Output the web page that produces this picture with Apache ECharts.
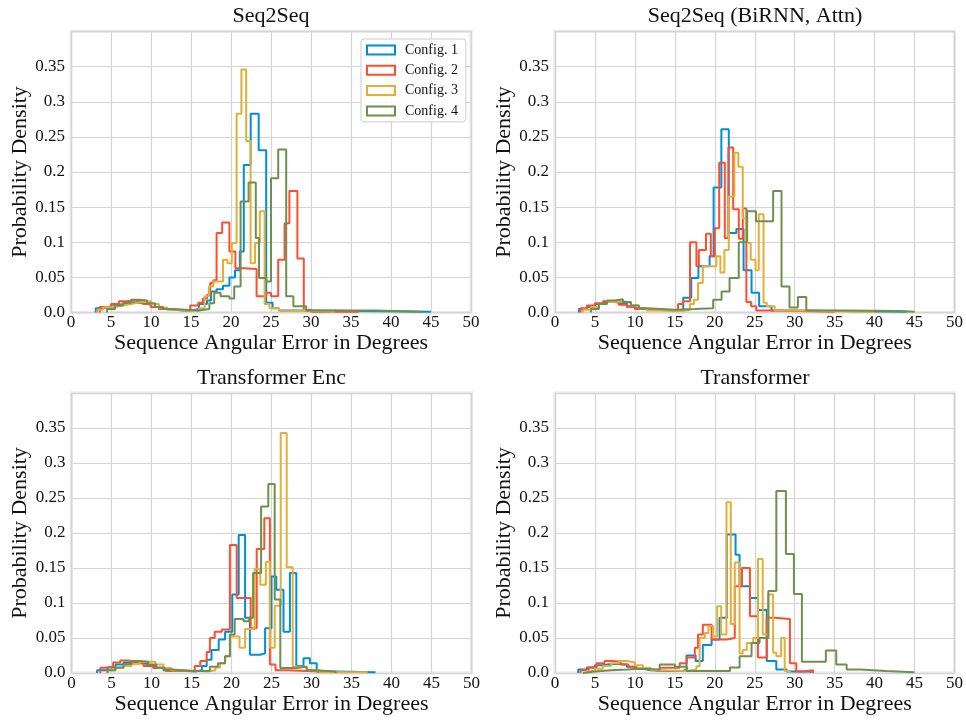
<!DOCTYPE html>
<html><head><meta charset="utf-8">
<script src="https://cdn.jsdelivr.net/npm/echarts@6/dist/echarts.min.js"></script>
<style>html,body{margin:0;padding:0;background:#fff}#c{width:966px;height:720px}</style>
</head><body><div id="c"></div>
<script>
// Panel titles and labels
const panelTitles = ['Seq2Seq', 'Seq2Seq (BiRNN, Attn)', 'Transformer Enc', 'Transformer'];
const seriesNames = ['Config. 1', 'Config. 2', 'Config. 3', 'Config. 4'];
const xTickValues = [0, 5, 10, 15, 20, 25, 30, 35, 40, 45, 50];
const yTickLabels = ['0.0', '0.05', '0.1', '0.15', '0.2', '0.25', '0.3', '0.35'];
const xName = 'Sequence Angular Error in Degrees';
const yName = 'Probability Density';

// Histogram steps: [left bin edge, density]; last entry is the right edge of the last bin.
// Panel 1: Seq2Seq
const p1c1 = [[3.1,0.006],[4.0,0.008],[5.0,0.011],[6.0,0.013],[7.0,0.014],[8.0,0.013],[9.0,0.011],[10.0,0.008],[11.0,0.005],[12.0,0.003],[14.0,0.003],[15.0,0.005],[16.0,0.012],[17.0,0.017],[17.5,0.03],[18.2,0.033],[19.0,0.038],[19.8,0.05],[20.5,0.06],[21.1,0.087],[21.6,0.21],[22.46,0.283],[23.46,0.231],[24.4,0.014],[25.2,0.006],[26,0.003],[30,0.001],[45,0]];
const p1c2 = [[3.6,0.008],[4.3,0.006],[5.0,0.012],[6.0,0.016],[7.0,0.017],[8.0,0.015],[9.0,0.012],[10.0,0.008],[11.0,0.005],[12.0,0.003],[14.9,0.01],[15.9,0.014],[16.5,0.02],[17.0,0.025],[17.4,0.042],[17.8,0.046],[18.2,0.113],[18.9,0.128],[19.8,0.087],[20.55,0.063],[21.6,0.062],[23.2,0.023],[24.4,0.028],[25.0,0.023],[25.9,0.075],[26.7,0.127],[27.3,0.173],[28.3,0.077],[29.1,0.004],[30,0.001],[36,0]];
const p1c3 = [[3.3,0.004],[4,0.007],[5,0.009],[6,0.011],[7,0.013],[8,0.015],[9,0.016],[10,0.012],[11,0.007],[12,0.004],[13,0.002],[16,0.006],[16.7,0.023],[17.25,0.037],[17.8,0.044],[19.0,0.075],[19.55,0.07],[20.1,0.099],[20.7,0.283],[21.3,0.346],[21.9,0.244],[22.45,0.07],[23.0,0.099],[23.6,0.144],[24.2,0.012],[24.8,0.006],[26,0.003],[29,0.001],[33,0]];
const p1c4 = [[4.5,0.005],[5.5,0.01],[6.5,0.014],[7.5,0.018],[8.5,0.017],[9.5,0.013],[10.5,0.008],[11.5,0.005],[12.5,0.003],[16,0.005],[17.3,0.013],[17.9,0.028],[18.7,0.023],[19.8,0.02],[20.4,0.037],[21.2,0.158],[22.2,0.185],[23.1,0.106],[23.5,0.049],[24.4,0.044],[25.0,0.191],[25.9,0.232],[26.9,0.023],[27.8,0.009],[29.4,0.003],[38,0.001],[44,0]];
// Panel 2: Seq2Seq (BiRNN, Attn)
const p2c1 = [[3.0,0.005],[4,0.008],[5,0.012],[6,0.015],[7,0.016],[8,0.013],[9,0.009],[10,0.006],[11,0.004],[12,0.003],[15,0.004],[16.05,0.021],[17.05,0.049],[17.95,0.066],[19.35,0.08],[19.85,0.178],[20.82,0.261],[21.75,0.113],[22.7,0.119],[23.6,0.06],[24.6,0.028],[25.55,0.009],[27.1,0.003],[30,0.001],[44,0]];
const p2c2 = [[3.2,0.006],[4,0.01],[5,0.013],[6,0.016],[7,0.014],[8,0.011],[9,0.008],[10,0.005],[11,0.003],[15.4,0.012],[16.0,0.016],[16.9,0.10],[17.7,0.066],[18.0,0.089],[18.9,0.112],[19.5,0.08],[20.0,0.12],[20.55,0.213],[21.25,0.106],[21.7,0.235],[22.3,0.147],[23.0,0.105],[23.5,0.148],[23.95,0.015],[24.55,0.009],[25.2,0.003],[28,0.001],[35,0]];
const p2c3 = [[3.5,0.004],[4.5,0.008],[5.5,0.012],[6.5,0.015],[7.5,0.016],[8.5,0.014],[9.5,0.01],[10.5,0.006],[11.5,0.003],[13,0.002],[16,0.004],[16.9,0.012],[17.4,0.018],[17.9,0.042],[18.5,0.066],[20.2,0.08],[20.7,0.057],[21.2,0.089],[21.75,0.165],[22.45,0.2275],[22.95,0.2075],[23.5,0.134],[23.9,0.099],[24.5,0.075],[25.1,0.06],[25.5,0.14],[26.1,0.014],[26.5,0.009],[27.5,0.003],[30,0.001],[40,0]];
const p2c4 = [[4.5,0.005],[5.5,0.012],[6.5,0.017],[7.5,0.019],[8.5,0.015],[9.5,0.01],[10.5,0.006],[11.5,0.004],[15,0.005],[17.5,0.006],[19.8,0.018],[20.85,0.03],[21.85,0.049],[23.0,0.1],[24.05,0.144],[25.15,0.13],[27.3,0.173],[28.35,0.037],[29.35,0.007],[30.4,0.022],[31.45,0.003],[36,0.002],[43,0.001],[45,0]];
// Panel 3: Transformer Enc
const p3c1 = [[3.2,0.004],[4.5,0.008],[5.5,0.012],[6.5,0.015],[7.5,0.015],[8.5,0.013],[9.5,0.01],[10.5,0.007],[11.5,0.004],[13,0.002],[15.5,0.004],[16.3,0.01],[16.9,0.019],[17.5,0.033],[18.4,0.048],[19.2,0.059],[20.1,0.112],[20.9,0.197],[21.7,0.079],[22.3,0.026],[23.6,0.028],[24.2,0.064],[25.0,0.138],[25.6,0.119],[26.5,0.059],[27.3,0.143],[28.1,0.01],[29.0,0.021],[29.8,0.014],[30.65,0.002],[33,0.001],[38,0]];
const p3c2 = [[3.6,0.0075],[4.2,0.009],[5.2,0.015],[6.1,0.018],[6.9,0.017],[7.7,0.014],[9.0,0.01],[10.2,0.007],[11.8,0.003],[15.4,0.01],[16.1,0.017],[16.9,0.03],[17.3,0.05],[17.9,0.059],[18.8,0.062],[19.8,0.183],[20.65,0.107],[22.4,0.064],[23.15,0.177],[24.1,0.221],[24.8,0.012],[25.5,0.004],[27,0.002],[31,0]];
const p3c3 = [[4.5,0.004],[5.5,0.007],[6.5,0.01],[7.5,0.013],[8.5,0.016],[9.5,0.016],[10.5,0.012],[11.5,0.007],[12.5,0.004],[14,0.002],[17,0.004],[18.0,0.008],[18.56,0.014],[19.2,0.024],[19.8,0.052],[21.0,0.036],[21.7,0.063],[22.9,0.149],[23.6,0.126],[24.3,0.159],[24.8,0.036],[25.4,0.096],[26.15,0.343],[26.9,0.151],[27.65,0.009],[29.4,0.004],[31,0.001],[37,0]];
const p3c4 = [[4.5,0.004],[5.5,0.008],[6.5,0.013],[7.5,0.017],[8.6,0.016],[9.6,0.012],[10.6,0.008],[11.6,0.005],[12.6,0.003],[15,0.003],[17.3,0.009],[18.3,0.014],[19.2,0.024],[19.8,0.055],[20.4,0.077],[21.5,0.074],[22.2,0.079],[22.7,0.143],[23.7,0.238],[24.6,0.27],[25.4,0.105],[26.1,0.007],[28.1,0.009],[29.4,0.004],[30.5,0.002],[33,0]];
// Panel 4: Transformer
const p4c1 = [[2.9,0.005],[4,0.008],[5,0.011],[6,0.013],[7,0.013],[8,0.012],[9,0.009],[10,0.006],[11,0.004],[12,0.003],[14,0.003],[16,0.005],[16.46,0.025],[17.6,0.017],[18.5,0.04],[19.6,0.048],[20.6,0.079],[21.5,0.198],[22.6,0.169],[23.1,0.124],[24.4,0.107],[25.4,0.09],[26.5,0.017],[27.7,0.005],[29,0.002],[32,0]];
const p4c2 = [[3.2,0.004],[4.2,0.008],[5.2,0.014],[6.2,0.017],[7.2,0.016],[8.2,0.012],[9.2,0.009],[10.2,0.006],[11.2,0.004],[12.5,0.003],[13.1,0.0075],[15.6,0.014],[16.5,0.022],[17.5,0.036],[17.9,0.055],[18.5,0.069],[19.6,0.048],[21.5,0.05],[22.5,0.124],[23.4,0.15],[24.4,0.081],[25.4,0.022],[26.5,0.079],[27.5,0.077],[29.4,0.014],[30.2,0.002],[31.2,0.004],[32.3,0]];
const p4c3 = [[4,0.003],[5,0.006],[6,0.01],[7,0.014],[8,0.017],[9,0.015],[10,0.011],[11,0.007],[12,0.004],[13,0.003],[16.5,0.005],[17.7,0.0095],[18.1,0.05],[18.75,0.057],[19.2,0.067],[19.8,0.052],[20.3,0.0955],[20.8,0.055],[21.46,0.244],[22.0,0.07],[22.5,0.158],[23.1,0.028],[23.5,0.033],[24.0,0.043],[24.8,0.05],[25.4,0.163],[26.0,0.055],[26.7,0.112],[27.3,0.029],[27.7,0.024],[28.3,0.05],[28.75,0.003],[29.4,0]];
const p4c4 = [[3.5,0.002],[5,0.004],[7,0.005],[9,0.006],[10.6,0.005],[13.1,0.012],[15,0.009],[16.5,0.003],[21.9,0.008],[23.1,0.024],[24.6,0.043],[25.6,0.05],[26.7,0.117],[27.7,0.26],[28.9,0.17],[29.9,0.113],[30.9,0.016],[33.9,0.032],[35.2,0.012],[36.5,0.005],[38.3,0.003],[41.4,0.001],[45,0]];

const panelData = [[p1c1,p1c2,p1c3,p1c4],[p2c1,p2c2,p2c3,p2c4],[p3c1,p3c2,p3c3,p3c4],[p4c1,p4c2,p4c3,p4c4]];
const colors = ['#008fd5', '#fc4f30', '#e5ae38', '#6d904f'];
const FONT = 'Liberation Serif';

const grids = [
  {left: 71, top: 31.5, width: 400, height: 281},
  {left: 555, top: 31.5, width: 400, height: 281},
  {left: 71.5, top: 393, width: 400, height: 280},
  {left: 555, top: 393, width: 400, height: 280}
];

function toLine(steps) {
  const d = [[steps[0][0], 0]];
  steps.forEach(s => d.push([s[0], s[1]]));
  return d;
}

const option = {
  animation: false,
  backgroundColor: '#ffffff',
  textStyle: {fontFamily: FONT},
  color: colors,
  grid: grids.map(g => Object.assign({show: true, borderColor: '#e8e8e8', borderWidth: 3, backgroundColor: '#ffffff'}, g)),
  xAxis: grids.map((g, i) => ({
    type: 'value', gridIndex: i, min: 0, max: 50, interval: 5,
    name: xName, nameLocation: 'middle', nameGap: 20,
    nameTextStyle: {fontFamily: FONT, fontSize: 22, color: '#111'},
    axisLine: {show: false}, axisTick: {show: false},
    axisLabel: {fontFamily: FONT, fontSize: 17, color: '#111', margin: 2,
      formatter: v => (xTickValues.indexOf(Math.round(v)) >= 0 ? String(Math.round(v)) : '')},
    splitLine: {show: true, lineStyle: {color: '#d4d4d4', width: 1.2}}
  })),
  yAxis: grids.map((g, i) => ({
    type: 'value', gridIndex: i, min: 0, max: 0.4, interval: 0.05,
    name: yName, nameLocation: 'middle', nameGap: 40,
    nameTextStyle: {fontFamily: FONT, fontSize: 22, color: '#111'},
    axisLine: {show: false}, axisTick: {show: false},
    axisLabel: {fontFamily: FONT, fontSize: 17, color: '#111', margin: 6,
      formatter: v => { const k = Math.round(v / 0.05); return k < yTickLabels.length ? yTickLabels[k] : ''; }},
    splitLine: {show: true, lineStyle: {color: '#d4d4d4', width: 1.2}}
  })),
  legend: {
    orient: 'vertical', left: 361, top: 39,
    itemWidth: 28, itemHeight: 9, itemGap: 6.3,
    padding: [4, 8, 4, 5],
    backgroundColor: 'rgba(255,255,255,0.85)', borderColor: '#cccccc', borderWidth: 1, borderRadius: 3,
    textStyle: {fontFamily: FONT, fontSize: 14, color: '#111', padding: [0, 0, 0, 5]},
    data: seriesNames.map((n, i) => ({name: n, icon: 'rect',
      itemStyle: {color: 'rgba(0,0,0,0)', borderColor: colors[i], borderWidth: 2}}))
  },
  graphic: panelTitles.map((t, i) => ({
    type: 'text',
    x: grids[i].left + grids[i].width / 2, y: grids[i].top - 15,
    style: {text: t, font: '22px "' + FONT + '"', fill: '#111', textAlign: 'center', textVerticalAlign: 'middle'}
  })),
  series: []
};

panelData.forEach((group, p) => {
  group.forEach((steps, k) => {
    option.series.push({
      type: 'line', name: seriesNames[k], xAxisIndex: p, yAxisIndex: p,
      step: 'end', showSymbol: false, symbol: 'none',
      lineStyle: {width: 2, color: colors[k]}, itemStyle: {color: colors[k]},
      data: toLine(steps), z: 2 + k
    });
  });
});

const chart = echarts.init(document.getElementById('c'), null, {renderer: 'canvas'});
chart.setOption(option);
</script></body></html>
